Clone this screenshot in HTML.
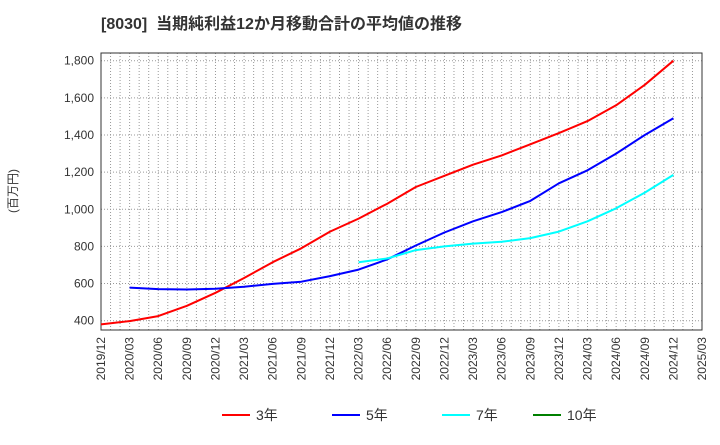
<!DOCTYPE html>
<html><head><meta charset="utf-8"><style>
body{margin:0;background:#fff;font-family:"Liberation Sans","Noto Sans CJK JP",sans-serif}
</style></head><body>
<svg width="720" height="440" xmlns="http://www.w3.org/2000/svg">
<text x="101" y="29" font-size="16" font-weight="bold" fill="#333">[8030]&#160;&#160;当期純利益12か月移動合計の平均値の推移</text>
<text transform="translate(17,191) rotate(-90)" text-anchor="middle" font-size="12" fill="#333">(百万円)</text>
<g id="grid"></g>
<rect x="101" y="53" width="601" height="277" fill="none" stroke="#333"/>
<g id="series"></g>
<g id="labels"></g>
<g id="legend"></g>
</svg>
<script>
const xTicks=["2019/12","2020/03","2020/06","2020/09","2020/12","2021/03","2021/06","2021/09","2021/12","2022/03","2022/06","2022/09","2022/12","2023/03","2023/06","2023/09","2023/12","2024/03","2024/06","2024/09","2024/12","2025/03"];
const yTicks=[400,600,800,1000,1200,1400,1600,1800];
const s3=[380,398,425,480,550,630,715,790,880,950,1030,1120,1180,1240,1290,1350,1410,1475,1560,1670,1800];
const s5=[null,578,570,568,572,583,598,610,640,675,730,805,875,935,985,1045,1140,1210,1300,1400,1490];
const s7=[null,null,null,null,null,null,null,null,null,715,735,780,800,815,825,845,880,935,1005,1090,1185];
const s10=[];
const NS="http://www.w3.org/2000/svg";
const X0=101,X1=702,Y0=320.7,YS=260/1400;
const xq=i=>X0+i*(X1-X0)/21;
const xm=m=>X0+m*(X1-X0)/63;
const yv=v=>Y0-(v-400)*YS;
const grid=document.getElementById('grid'),lab=document.getElementById('labels'),ser=document.getElementById('series'),leg=document.getElementById('legend');
function mk(t,a,p){const e=document.createElementNS(NS,t);for(const k in a)e.setAttribute(k,a[k]);p.appendChild(e);return e;}
for(let m=1;m<63;m++){const l=mk('line',{x1:xm(m),x2:xm(m),y1:53,y2:330,stroke:'#999','stroke-dasharray':'1,2','stroke-width':1},grid);

}
yTicks.forEach(v=>{const l=mk('line',{x1:101,x2:702,y1:yv(v),y2:yv(v),stroke:'#999','stroke-dasharray':'1,2'},grid);


const t=mk('text',{x:94,y:yv(v)+4,'text-anchor':'end','font-size':12,fill:'#333'},lab);t.textContent=v.toLocaleString('en-US');

});
xTicks.forEach((s,i)=>{const t=mk('text',{transform:`translate(${xq(i)+4},337) rotate(-90)`,'text-anchor':'end','font-size':12,fill:'#333'},lab);t.textContent=s;

});
function line(arr,color,name){let d='';arr.forEach((v,i)=>{if(v==null)return;d+=(d?'L':'M')+xq(i).toFixed(1)+','+yv(v).toFixed(1);});
if(!d)return;const p=mk('path',{d:d,fill:'none',stroke:color,'stroke-width':2,'stroke-linejoin':'round'},ser);

}
line(s3,'#ff0000','series-3y');line(s5,'#0000ff','series-5y');line(s7,'#00ffff','series-7y');line(s10,'#008000','series-10y');
[['3年','#ff0000',222],['5年','#0000ff',332],['7年','#00ffff',442],['10年','#008000',533]].forEach(([n,c,x])=>{
const g=mk('g',{},leg);


mk('line',{x1:x,x2:x+28,y1:415,y2:415,stroke:c,'stroke-width':2},g);
const t=mk('text',{x:x+34,y:420,'font-size':14,fill:'#333'},g);t.textContent=n;});
</script>
</body></html>
